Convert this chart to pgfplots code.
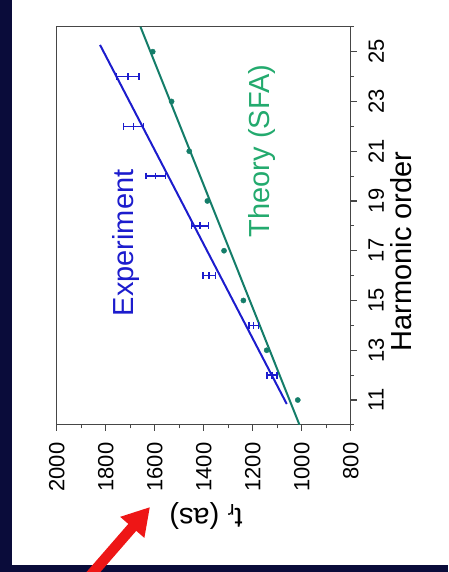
\documentclass[border=0pt]{standalone}
\usepackage{pgfplots}
\pgfplotsset{compat=1.18}
\usepackage{fontspec}
\setmainfont{Liberation Sans}
\usetikzlibrary{arrows.meta}

\definecolor{slidenavy}{RGB}{10,12,58}
\definecolor{expblue}{RGB}{28,28,205}
\definecolor{sfaline}{RGB}{20,125,105}
\definecolor{sfatext}{RGB}{35,170,110}
\definecolor{framegray}{RGB}{70,70,70}
\definecolor{arrowred}{RGB}{238,22,22}

% measured delays: harmonic, delay, half-width of the error bar
\pgfplotstableread{
h    t     e     lo    hi
12   1122  20    1102  1142
14   1196  19    1177  1215
16   1378  26    1352  1404
18   1415  35    1380  1450
20   1596  40    1556  1636
22   1687  41    1646  1728
24   1710  46    1664  1756
}\expdata

\begin{document}
\begin{tikzpicture}
  % slide background and white panel
  \useasboundingbox (0pt,0pt) rectangle (448pt,572pt);
  \clip (0pt,0pt) rectangle (448pt,572pt);
  \fill[slidenavy] (0pt,0pt) rectangle (448pt,572pt);
  \fill[white] (12pt,7pt) rectangle (448pt,572pt);

  % chart turned a quarter turn: attosecond delay runs horizontally, harmonic order vertically
  \begin{axis}[
    at={(56.7pt,147.1pt)}, anchor=south west,
    scale only axis, width=294pt, height=398.1pt,
    xmin=800, xmax=2000, x dir=reverse,
    ymin=10, ymax=26,
    xtick={800,1000,...,2000}, minor x tick num=1,
    ytick={11,13,...,25}, minor ytick={10,12,...,26},
    xtick pos=left, ytick pos=right, yticklabel pos=right,
    tick align=outside,
    major tick length=6pt, minor tick length=3.5pt,
    axis line style={framegray, line width=1.2pt},
    every tick/.style={framegray, line width=1.1pt},
    tick label style={font=\fontsize{22}{26}\selectfont},
    /pgf/number format/.cd, set thousands separator={}, assume math mode=true,
    /pgfplots/.cd,
    xticklabel style={rotate=90, anchor=east, inner sep=0pt},
    xticklabel shift=11.5pt,
    yticklabel style={rotate=90, anchor=north, inner sep=0pt},
    yticklabel shift=11.5pt,
    clip=true,
  ]
    % SFA theory: fitted line and computed points
    \addplot[sfaline, line width=2pt] coordinates {(1009,10) (1658,26)};
    \addplot[sfaline, only marks, mark=*, mark size=2.6pt] coordinates {
      (1016,11) (1143,13) (1238,15) (1317,17)
      (1385,19) (1459,21) (1531,23) (1608,25)
    };
    % experiment: linear fit
    \addplot[expblue, line width=2pt] coordinates {(1061,10.84) (1823,25.27)};
    % measured delays with horizontal error bars
    \addplot[expblue, only marks, mark=|, mark size=3.4pt,
      mark options={line width=1.6pt},
      error bars/.cd, x dir=both, x explicit, error mark=none,
      error bar style={line width=1.6pt}]
      table[x=t, y=h, x error=e] {\expdata};
    % caps at both ends of each error bar
    \addplot[expblue, only marks, mark=|, mark size=3.4pt,
      mark options={line width=1.6pt}] table[x=lo, y=h] {\expdata};
    \addplot[expblue, only marks, mark=|, mark size=3.4pt,
      mark options={line width=1.6pt}] table[x=hi, y=h] {\expdata};
  \end{axis}

  % labels
  \node[rotate=90, expblue, font=\fontsize{29}{34}\selectfont] at (126pt,329pt) {Experiment};
  \node[rotate=90, sfatext, font=\fontsize{29}{34}\selectfont] at (262pt,421pt) {Theory (SFA)};
  \node[rotate=90, black, font=\fontsize{29}{34}\selectfont] at (401pt,320.5pt) {Harmonic order};
  \node[rotate=180, black, font=\fontsize{29}{34}\selectfont] at (206pt,56pt) {t\textsubscript{r} (as)};

  % pointer arrow
  \draw[arrowred, line width=10.5pt, -{Triangle[length=27pt,width=30pt]}] (83pt,-12pt) -- (150pt,65pt);
\end{tikzpicture}
\end{document}
